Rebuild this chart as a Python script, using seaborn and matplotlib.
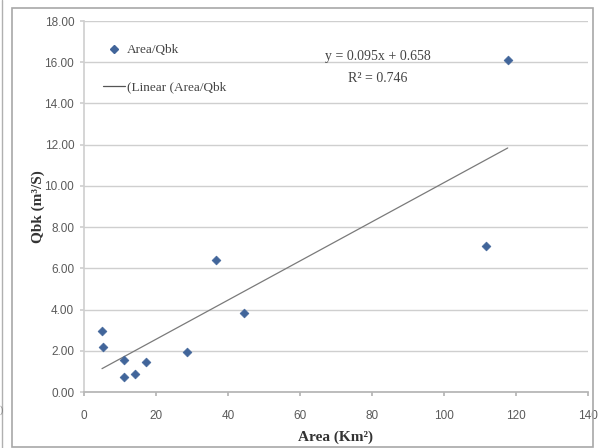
import matplotlib
matplotlib.use("Agg")
import matplotlib.pyplot as plt
from matplotlib.patches import Rectangle
from matplotlib.lines import Line2D
import numpy as np
import pandas as pd
import seaborn as sns

# Catchment area (km²) and bankfull discharge Qbk (m³/s)
area = [5.0, 5.4, 11.0, 11.0, 14.2, 17.1, 28.7, 36.6, 44.4, 111.7, 117.7]
qbk = [2.98, 2.20, 1.56, 0.74, 0.87, 1.47, 1.96, 6.40, 3.85, 7.09, 16.10]

# Linear trend reported for the series
slope = 0.095
intercept = 0.658
r_squared = 0.746

x_ticks = [0, 20, 40, 60, 80, 100, 120, 140]
y_ticks = [0, 2, 4, 6, 8, 10, 12, 14, 16, 18]

sns.set_theme(style="white")
plt.rcParams["font.family"] = ["Liberation Serif", "DejaVu Sans"]

fig = plt.figure(figsize=(6.01, 4.48), dpi=100)
ax = fig.add_axes([84 / 601, 1 - 392 / 448, (588 - 84) / 601, (392 - 21) / 448])

df = pd.DataFrame({"Area": area, "Qbk": qbk})
marker_color = "#41659A"
sns.scatterplot(data=df, x="Area", y="Qbk", marker="D", s=20, color=marker_color,
                edgecolor=marker_color, linewidth=0.5, ax=ax, zorder=3)

trend_x = np.array([min(area), max(area)])
trend = pd.DataFrame({"Area": trend_x, "Qbk": slope * trend_x + intercept})
sns.lineplot(data=trend, x="Area", y="Qbk", color="#7a7a7a", linewidth=0.9, ax=ax, zorder=2)

ax.set_xlim(0, 140)
ax.set_ylim(0, 18)
ax.set_xticks(x_ticks)
ax.set_yticks(y_ticks)
ax.set_xticklabels([str(t) for t in x_ticks], fontsize=8.5, color="#5a5a5a",
                   family="Liberation Sans")
ax.set_yticklabels([f"{t:.2f}" for t in y_ticks], fontsize=8.5, color="#5a5a5a",
                   family="Liberation Sans")
ax.yaxis.grid(True, color="#cfcfcf", linewidth=1.0)
ax.xaxis.grid(False)
ax.set_axisbelow(True)
for side in ("top", "right"):
    ax.spines[side].set_visible(False)
ax.spines["left"].set_color("#d0d0d0")
ax.spines["bottom"].set_color("#b5b5b5")
ax.tick_params(axis="x", which="major", bottom=True, length=3, color="#b5b5b5", pad=10)
ax.tick_params(axis="y", which="major", left=True, length=3, color="#d0d0d0", pad=4)

ax.set_xlabel("Area (Km²)", fontsize=11, fontweight="bold", color="#333333", labelpad=6)
ax.set_ylabel("Qbk (m³/S)", fontsize=11, fontweight="bold", color="#333333", labelpad=0)

ax.text(81.5, 16.3, f"y = {slope:.3f}x + {intercept:.3f}", fontsize=10, color="#444444",
        ha="center", va="center")
ax.text(81.5, 15.2, f"R² = {r_squared:.3f}", fontsize=10, color="#444444",
        ha="center", va="center")

handles = [
    Line2D([], [], marker="D", linestyle="none", color=marker_color, markersize=4),
    Line2D([], [], color="#555555", linewidth=0.9),
]
ax.legend(handles, ["Area/Qbk", "(Linear (Area/Qbk"], loc="upper left",
          bbox_to_anchor=(0.015, 0.97), frameon=False, fontsize=9.5,
          handlelength=1.6, handletextpad=0.2, labelspacing=1.9, labelcolor="#444444")

# surrounding chart frame
fig.patches.append(Rectangle((12 / 601, 1 - 447 / 448), (593 - 12) / 601, (447 - 8) / 448,
                             transform=fig.transFigure, fill=False,
                             edgecolor="#a8a8a8", linewidth=1.2))
fig.lines.append(Line2D([2 / 601, 2 / 601], [0, 1], transform=fig.transFigure,
                        color="#b0b0b0", linewidth=1.0))
fig.text(0 / 601, 1 - 410 / 448, ")", fontsize=7, color="#777777", va="center")

fig.savefig("out.png", dpi=100, facecolor="white")
